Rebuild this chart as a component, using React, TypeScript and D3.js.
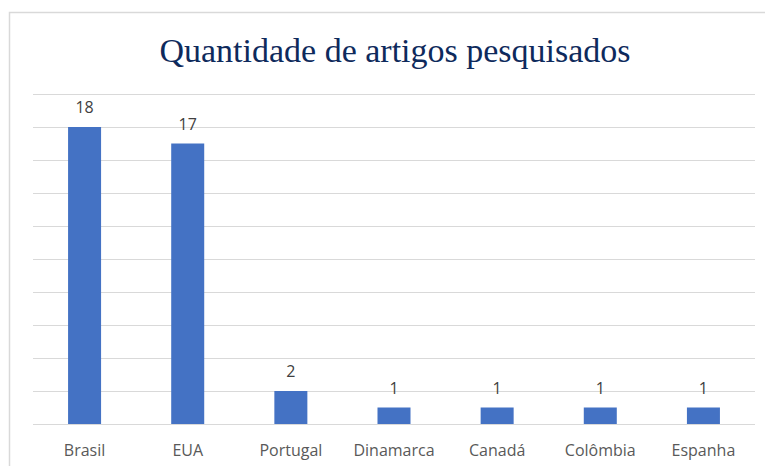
import React, { useEffect, useRef } from 'react';
import * as d3 from 'd3';

const countries = ['Brasil', 'EUA', 'Portugal', 'Dinamarca', 'Canadá', 'Colômbia', 'Espanha'];
const articles = [18, 17, 2, 1, 1, 1, 1];
const yTicks = [0, 2, 4, 6, 8, 10, 12, 14, 16, 18, 20];

const width = 765;
const height = 466;
const margin = { top: 94, right: 10, bottom: 42, left: 33 };

const App = () => {
  const ref = useRef<SVGSVGElement>(null);

  useEffect(() => {
    const svg = d3.select(ref.current);
    svg.selectAll('*').remove();

    // chart frame
    svg.append('rect')
      .attr('x', 9.5)
      .attr('y', 12.5)
      .attr('width', width + 20)
      .attr('height', height + 20)
      .attr('fill', '#fff')
      .attr('stroke', '#d9d9d9')
      .attr('stroke-width', 1.5);

    svg.append('text')
      .attr('x', 395)
      .attr('y', 62)
      .attr('text-anchor', 'middle')
      .attr('font-family', '"Liberation Serif", "Times New Roman", serif')
      .attr('font-size', 34)
      .attr('fill', '#0e2a5c')
      .text('Quantidade de artigos pesquisados');

    const x = d3.scaleBand()
      .domain(countries)
      .range([margin.left, width - margin.right])
      .paddingInner(0.68)
      .paddingOuter(0.34);

    const y = d3.scaleLinear()
      .domain([0, 20])
      .range([height - margin.bottom, margin.top]);

    svg.append('g')
      .selectAll('line')
      .data(yTicks)
      .enter()
      .append('line')
      .attr('x1', margin.left)
      .attr('x2', width - margin.right)
      .attr('y1', d => Math.round(y(d)) + 0.5)
      .attr('y2', d => Math.round(y(d)) + 0.5)
      .attr('stroke', '#d9d9d9')
      .attr('stroke-width', 1);

    svg.append('g')
      .selectAll('rect')
      .data(articles)
      .enter()
      .append('rect')
      .attr('x', (d, i) => x(countries[i]) as number)
      .attr('y', d => y(d))
      .attr('width', x.bandwidth())
      .attr('height', d => y(0) - y(d))
      .attr('fill', '#4472c4');

    svg.append('g')
      .selectAll('text')
      .data(articles)
      .enter()
      .append('text')
      .attr('x', (d, i) => (x(countries[i]) as number) + x.bandwidth() / 2)
      .attr('y', d => y(d) - 14)
      .attr('text-anchor', 'middle')
      .attr('font-family', '"Open Sans", sans-serif')
      .attr('font-size', 16)
      .attr('fill', '#404040')
      .text(d => d);

    svg.append('g')
      .selectAll('text')
      .data(countries)
      .enter()
      .append('text')
      .attr('x', d => (x(d) as number) + x.bandwidth() / 2)
      .attr('y', 456)
      .attr('text-anchor', 'middle')
      .attr('font-family', '"Open Sans", sans-serif')
      .attr('font-size', 16)
      .attr('fill', '#595959')
      .text(d => d);
  }, []);

  return (
    <svg
      ref={ref}
      width={width}
      height={height}
      style={{ position: 'absolute', left: 0, top: 0, background: '#fff' }}
    />
  );
};

export default App;
